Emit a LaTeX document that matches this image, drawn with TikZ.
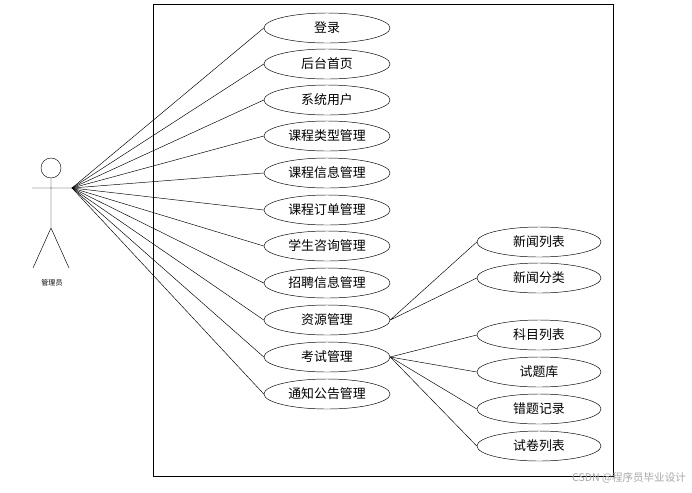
\documentclass[tikz,border=0pt]{standalone}
\usepackage{fontspec}
\setmainfont{Noto Sans CJK SC}
\usetikzlibrary{shapes.geometric}
\begin{document}
\begin{tikzpicture}[x=0.03cm,y=-0.03cm,
  uc/.style={draw,ellipse,minimum width=126*0.03cm,minimum height=30*0.03cm,inner sep=0pt,font=\fontsize{11}{12}\selectfont},
  ln/.style={draw,line width=0.5pt}]
\useasboundingbox (0,0) rectangle (692,492);
\draw[line width=0.6pt] (153,4) rectangle (613,476);
% actor
\node[draw,circle,minimum size=20*0.03cm,inner sep=0pt] (head) at (51,168) {};
\coordinate (neck) at (51,178);
\coordinate (hip) at (51,228);
\coordinate (la) at (32,188);
\coordinate (ra) at (72,188);
\coordinate (ll) at (33,268);
\coordinate (rl) at (69,268);
\draw (head.south) -- (hip) (la) -- (ra) (hip) -- (ll) (hip) -- (rl);
\node[font=\fontsize{6}{7}\selectfont] (lbl) at (52,283) {管理员};
% use cases
\foreach \n/\y/\t in {a/28/登录,b/64/后台首页,c/100/系统用户,d/136/课程类型管理,e/173/课程信息管理,f/210/课程订单管理,g/246/学生咨询管理,h/283/招聘信息管理,i/320/资源管理,j/357/考试管理,k/394/通知公告管理}{
  \node[uc] (\n) at (327,\y) {\t};
  \draw (ra) -- (\n.west);
}
\foreach \n/\y/\t in {r1/242/新闻列表,r2/278/新闻分类,r3/335/科目列表,r4/372/试题库,r5/409/错题记录,r6/446/试卷列表}{
  \node[uc,minimum width=124*0.03cm] (\n) at (539,\y) {\t};
}
\draw (i.east) -- (r1.west) (i.east) -- (r2.west);
\foreach \n in {r3,r4,r5,r6} \draw (j.east) -- (\n.west);
\node[text=gray!70,font=\fontsize{9}{10}\selectfont,anchor=east] (wm) at (690,478) {CSDN @程序员毕业设计};
\end{tikzpicture}
\end{document}
